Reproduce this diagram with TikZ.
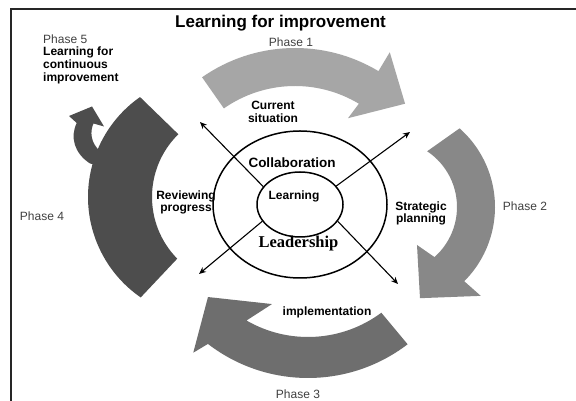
\documentclass[tikz,border=0pt]{standalone}
\usepackage{fontspec}
\setmainfont{Liberation Sans}
\newfontfamily\timesfont{Liberation Serif}
\usetikzlibrary{shapes.geometric,calc,arrows.meta}
\definecolor{pone}{HTML}{A6A6A6}
\definecolor{ptwo}{HTML}{888888}
\definecolor{pthree}{HTML}{6E6E6E}
\definecolor{pfour}{HTML}{4D4D4D}
\definecolor{phasetxt}{HTML}{404040}
\begin{document}
\begin{tikzpicture}[x=1pt,y=1pt,
  phase/.style={font=\fontsize{12}{13}\selectfont, text=phasetxt, inner sep=0pt},
  lbl/.style={font=\bfseries\fontsize{12}{12.5}\selectfont, align=center, inner sep=0pt},
  ring/.style={draw, ellipse, line width=1.5pt, inner sep=0pt},
  ray/.style={-{Stealth[length=7pt,width=6pt]}, line width=1.1pt},
]
\useasboundingbox (0,0) rectangle (576,401);
\fill[white] (0,0) rectangle (576,401);
\draw[line width=1.4pt, black!85] (576,392) -- (11,392) -- (11,0);

% centres of the curved arrows
\coordinate (c1) at (295,191);
\coordinate (c2) at (390,194);
\coordinate (c3) at (308,187);
\coordinate (c4o) at (210,204);
\coordinate (c4i) at (240,204);

% Phase 1 arrow
\fill[pone] ($(c1)+(125:162pt)$) arc[start angle=125,end angle=59,radius=162pt]
  -- ($(c1)+(59:184pt)$) -- ($(c1)+(44:153pt)$) -- ($(c1)+(60:106pt)$)
  -- ($(c1)+(59:124pt)$) arc[start angle=59,end angle=125,radius=124pt] -- cycle;
% Phase 2 arrow
\fill[ptwo] ($(c2)+(48.5:105pt)$) arc[start angle=48.5,end angle=-45,radius=105pt]
  -- ($(c2)+(-44.4:127pt)$) -- ($(c2)+(-71.8:96pt)$) -- ($(c2)+(-54.6:46.6pt)$)
  -- ($(c2)+(-48.4:67pt)$) arc[start angle=-48.4,end angle=56.3,radius=67pt] -- cycle;
% Phase 3 arrow
\fill[pthree] ($(c3)+(-52.6:164pt)$) arc[start angle=-52.6,end angle=-127.6,radius=164pt]
  -- ($(c3)+(-129.6:180pt)$) -- ($(c3)+(-140.3:130pt)$) -- ($(c3)+(-111.8:97pt)$)
  -- ($(c3)+(-120:123pt)$) arc[start angle=-120,end angle=-53.4,radius=123pt] -- cycle;
% Phase 4 arrow
\fill[pfour] ($(c4o)+(125:122pt)$) arc[start angle=125,end angle=235.4,radius=122pt]
  -- ($(c4i)+(224.5:88pt)$) arc[start angle=224.5,end angle=134.5,radius=88pt] -- cycle;
% Phase 5 small curled arrow
\fill[pfour] (76.7,278) -- (69,285) -- (92,294.5) -- (104,274.5) -- (93.5,277.5)
  .. controls (90,270) and (90,258) .. (101,249) -- (100,235) -- (90,237.5)
  .. controls (74,248) and (70,264) .. (76.7,278) -- cycle;

% rings
\node[ring, minimum width=174pt, minimum height=147pt] (outer) at (300,196.5) {};
\node[ring, minimum width=86pt, minimum height=65pt] (inner) at (300,196.5) {};

% rays
\coordinate (tnw) at (200,279);
\coordinate (tne) at (410,269);
\coordinate (tsw) at (199,127);
\coordinate (tse) at (398,117);
\draw[ray] (inner.154) -- (tnw);
\draw[ray] (inner.27) -- (tne);
\draw[ray] (inner.204) -- (tsw);
\draw[ray] (inner.336.5) -- (tse);

% texts
\node[font=\bfseries\fontsize{17}{20}\selectfont] (title) at (280.5,378) {Learning for improvement};
\node[anchor=west, align=left, font=\fontsize{12}{12.7}\selectfont, inner sep=0pt] (p5) at (43,342)
  {\textcolor{phasetxt}{Phase 5}\\\textbf{Learning for}\\\textbf{continuous}\\\textbf{improvement}};
\node[phase] (p1) at (291,359) {Phase 1};
\node[phase] (p2) at (525,195) {Phase 2};
\node[phase] (p3) at (298,7) {Phase 3};
\node[phase] (p4) at (42,185) {Phase 4};

\node[lbl] (cur) at (273,289) {Current\\situation};
\node[lbl] (rev) at (186,198.5) {Reviewing\\progress};
\node[lbl] (str) at (421,187.5) {Strategic\\planning};
\node[lbl] (imp) at (327,89) {implementation};
\node[font=\bfseries\fontsize{13.5}{15}\selectfont, inner sep=0pt] (col) at (292,238) {Collaboration};
\node[lbl] (lrn) at (294,205) {Learning};
\node[font=\timesfont\bfseries\fontsize{16.5}{18}\selectfont, inner sep=0pt] (lead) at (298.5,157) {Leadership};
\end{tikzpicture}
\end{document}
